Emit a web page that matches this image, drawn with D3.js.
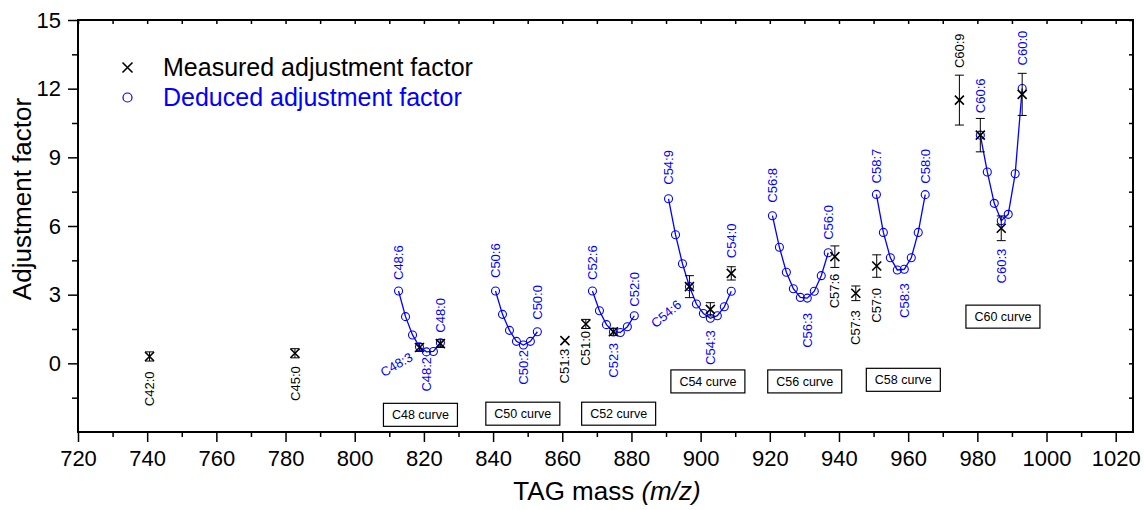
<!DOCTYPE html>
<html>
<head>
<meta charset="utf-8">
<script src="https://cdn.jsdelivr.net/npm/d3@7"></script>
<style>
  html, body { margin: 0; padding: 0; background: #fff; }
  svg { display: block; font-family: "Liberation Sans", Arial, sans-serif; }
</style>
</head>
<body>
<svg id="chart" width="1144" height="510"></svg>
<script>
// ---- Deduced adjustment factors along each carbon-number curve (m/z of [M+NH4]+) ----
const c48Species = ["C48:6", "C48:5", "C48:4", "C48:3", "C48:2", "C48:1", "C48:0"];
const c48Mass    = [812.67, 814.69, 816.71, 818.72, 820.74, 822.75, 824.77];
const c48Factor  = [3.16, 2.04, 1.24, 0.72, 0.50, 0.52, 0.90];

const c50Species = ["C50:6", "C50:5", "C50:4", "C50:3", "C50:2", "C50:1", "C50:0"];
const c50Mass    = [840.70, 842.72, 844.74, 846.75, 848.77, 850.79, 852.80];
const c50Factor  = [3.16, 2.14, 1.44, 0.96, 0.80, 0.96, 1.38];

const c52Species = ["C52:6", "C52:5", "C52:4", "C52:3", "C52:2", "C52:1", "C52:0"];
const c52Mass    = [868.73, 870.75, 872.77, 874.78, 876.80, 878.82, 880.83];
const c52Factor  = [3.16, 2.30, 1.69, 1.37, 1.35, 1.60, 2.08];

const c54Species = ["C54:9", "C54:8", "C54:7", "C54:6", "C54:5", "C54:4", "C54:3", "C54:2", "C54:1", "C54:0"];
const c54Mass    = [890.72, 892.74, 894.75, 896.77, 898.78, 900.80, 902.81, 904.83, 906.85, 908.86];
const c54Factor  = [7.19, 5.62, 4.35, 3.35, 2.59, 2.18, 1.97, 2.08, 2.47, 3.15];

const c56Species = ["C56:8", "C56:7", "C56:6", "C56:5", "C56:4", "C56:3", "C56:2", "C56:1", "C56:0"];
const c56Mass    = [920.76, 922.78, 924.79, 926.81, 928.83, 930.84, 932.86, 934.88, 936.89];
const c56Factor  = [6.45, 5.07, 3.98, 3.26, 2.88, 2.85, 3.15, 3.83, 4.83];

const c58Species = ["C58:7", "C58:6", "C58:5", "C58:4", "C58:3", "C58:2", "C58:1", "C58:0"];
const c58Mass    = [950.82, 952.83, 954.85, 956.86, 958.88, 960.90, 962.91, 964.93];
const c58Factor  = [7.38, 5.72, 4.61, 4.08, 4.11, 4.61, 5.72, 7.37];

const c60Species = ["C60:6", "C60:5", "C60:4", "C60:3", "C60:2", "C60:1", "C60:0"];
const c60Mass    = [980.86, 982.88, 984.89, 986.91, 988.93, 990.94, 992.96];
const c60Factor  = [9.97, 8.36, 6.99, 6.23, 6.51, 8.28, 12.01];

// ---- Measured adjustment factors with standard deviations ----
const measuredSpecies = ["C42:0", "C45:0", "C48:3", "C48:0", "C51:3", "C51:0", "C52:3",
                         "C54:6", "C54:3", "C54:0", "C57:6", "C57:3", "C57:0",
                         "C60:9", "C60:6", "C60:3", "C60:0"];
const measuredMass    = [740.68, 782.72, 818.72, 824.77, 860.77, 866.82, 874.78,
                         896.77, 902.81, 908.86, 938.81, 944.86, 950.91,
                         974.81, 980.86, 986.91, 992.96];
const measuredFactor  = [0.30, 0.44, 0.69, 0.86, 0.99, 1.72, 1.38,
                         3.35, 2.36, 3.93, 4.66, 3.06, 4.25,
                         11.50, 9.97, 5.90, 11.75];
const measuredError   = [0.20, 0.20, 0.17, 0.17, 0.00, 0.20, 0.15,
                         0.48, 0.29, 0.29, 0.47, 0.32, 0.49,
                         1.09, 0.73, 0.54, 0.92];

// ---- Curve captions and where they sit (data coordinates) ----
const curveCaptions     = ["C48 curve", "C50 curve", "C52 curve", "C54 curve", "C56 curve", "C58 curve", "C60 curve"];
const curveCaptionMass  = [819.0, 848.6, 876.3, 902.1, 930.1, 958.6, 987.4];
const curveCaptionValue = [-2.25, -2.2, -2.2, -0.79, -0.79, -0.72, 2.04];

// ---- Axis ticks ----
const xMajorTicks = [720, 740, 760, 780, 800, 820, 840, 860, 880, 900, 920, 940, 960, 980, 1000, 1020];
const xMinorTicks = [730, 750, 770, 790, 810, 830, 850, 870, 890, 910, 930, 950, 970, 990, 1010];
const yMajorTicks = [0, 3, 6, 9, 12, 15];
const yMinorTicks = [-1.5, 1.5, 4.5, 7.5, 10.5, 13.5];

// Point-label placement: side of the point, distance from it (px), optional slant
const labelLayout = {
  "C48:6": { side: "above", gap: 11 }, "C48:3": { side: "slant", dx: -8, dy: 9, angle: -30 },
  "C48:2": { side: "below", gap: 5 },  "C48:0": { side: "above", gap: 10 },
  "C50:6": { side: "above", gap: 13 }, "C50:2": { side: "below", gap: 5 },
  "C50:0": { side: "above", gap: 12 },
  "C52:6": { side: "above", gap: 11 }, "C52:3": { side: "below", gap: 11 },
  "C52:0": { side: "above", gap: 9 },
  "C54:9": { side: "above", gap: 14 }, "C54:6": { side: "slant", dx: -10, dy: 16, angle: -40 },
  "C54:3": { side: "below", gap: 12 }, "C54:0": { side: "above", gap: 33 },
  "C56:8": { side: "above", gap: 13 }, "C56:3": { side: "below", gap: 15 },
  "C56:0": { side: "above", gap: 13 },
  "C58:7": { side: "above", gap: 11 }, "C58:3": { side: "below", gap: 14 },
  "C58:0": { side: "above", gap: 11 },
  "C60:6": { side: "above", gap: 22 }, "C60:3": { side: "below", gap: 28 },
  "C60:0": { side: "above", gap: 23 }
};
const measuredLabelLayout = {
  "C42:0": { side: "below", gap: 15 }, "C45:0": { side: "below", gap: 13 },
  "C51:3": { side: "below", gap: 8 },  "C51:0": { side: "below", gap: 7 },
  "C57:6": { side: "below", gap: 17 }, "C57:3": { side: "below", gap: 17 },
  "C57:0": { side: "below", gap: 22 }, "C60:9": { side: "above", gap: 32 }
};

// ---- Layout ----
const svg = d3.select("#chart");
const plot = { left: 78, right: 1133, top: 20, bottom: 432 };
const BLUE = "#0000ff";

const x = d3.scaleLinear().domain([720, 1025]).range([plot.left, plot.right]);
const y = d3.scaleLinear().domain([-3, 15]).range([plot.bottom, plot.top]);

// Axes: outward ticks bottom/left with labels, inward mirrored ticks top/right
function styleAxis(g) {
  g.select(".domain").remove();
  g.selectAll(".tick line").attr("stroke", "#000").attr("stroke-width", 1.5);
  g.selectAll(".tick text").attr("font-size", 22).attr("fill", "#000")
    .attr("font-family", "'Liberation Sans', Arial, sans-serif");
}

svg.append("g").attr("transform", `translate(0,${plot.bottom})`)
  .call(d3.axisBottom(x).tickValues(xMajorTicks).tickSize(10).tickPadding(8).tickFormat(d3.format("d")))
  .call(styleAxis);
svg.append("g").attr("transform", `translate(0,${plot.bottom})`)
  .call(d3.axisBottom(x).tickValues(xMinorTicks).tickSize(5).tickFormat(""))
  .call(styleAxis);
svg.append("g").attr("transform", `translate(${plot.left},0)`)
  .call(d3.axisLeft(y).tickValues(yMajorTicks).tickSize(10).tickPadding(7).tickFormat(d3.format("d")))
  .call(styleAxis);
svg.append("g").attr("transform", `translate(${plot.left},0)`)
  .call(d3.axisLeft(y).tickValues(yMinorTicks).tickSize(6).tickFormat(""))
  .call(styleAxis);
svg.append("g").attr("transform", `translate(0,${plot.top})`)
  .call(d3.axisTop(x).tickValues(xMajorTicks.concat(xMinorTicks)).tickSize(-4).tickFormat(""))
  .call(styleAxis);
svg.append("g").attr("transform", `translate(${plot.right},0)`)
  .call(d3.axisRight(y).tickValues(yMajorTicks.concat(yMinorTicks)).tickSize(-4).tickFormat(""))
  .call(styleAxis);

// Frame
svg.append("rect")
  .attr("x", plot.left).attr("y", plot.top)
  .attr("width", plot.right - plot.left).attr("height", plot.bottom - plot.top)
  .attr("fill", "none").attr("stroke", "#000").attr("stroke-width", 2);

// Axis titles
svg.append("text")
  .attr("transform", `translate(31,199) rotate(-90)`)
  .attr("text-anchor", "middle").attr("font-size", 26).attr("fill", "#000")
  .text("Adjustment factor");

const xTitle = svg.append("text")
  .attr("x", 607).attr("y", 500)
  .attr("text-anchor", "middle").attr("font-size", 26).attr("fill", "#000");
xTitle.append("tspan").text("TAG mass ");
xTitle.append("tspan").attr("font-style", "italic").text("(m/z)");

// ---- Deduced curves ----
const curves = [
  { species: c48Species, mass: c48Mass, factor: c48Factor },
  { species: c50Species, mass: c50Mass, factor: c50Factor },
  { species: c52Species, mass: c52Mass, factor: c52Factor },
  { species: c54Species, mass: c54Mass, factor: c54Factor },
  { species: c56Species, mass: c56Mass, factor: c56Factor },
  { species: c58Species, mass: c58Mass, factor: c58Factor },
  { species: c60Species, mass: c60Mass, factor: c60Factor }
];

const line = d3.line().x(d => x(d.m)).y(d => y(d.v));
const deducedPoints = [];
curves.forEach(c => {
  const pts = c.species.map((s, i) => ({ s, m: c.mass[i], v: c.factor[i] }));
  deducedPoints.push(...pts);
  svg.append("path").datum(pts)
    .attr("d", line).attr("fill", "none").attr("stroke", BLUE).attr("stroke-width", 1.3);
});

svg.append("g").selectAll("circle").data(deducedPoints).join("circle")
  .attr("cx", d => x(d.m)).attr("cy", d => y(d.v)).attr("r", 4)
  .attr("fill", "none").attr("stroke", BLUE).attr("stroke-width", 1.1);

// ---- Measured points with error bars ----
const measured = measuredSpecies.map((s, i) => ({
  s, m: measuredMass[i], v: measuredFactor[i], e: measuredError[i]
}));
const mg = svg.append("g").attr("stroke", "#000");
measured.forEach(d => {
  const cx = x(d.m);
  if (d.e > 0) {
    const y0 = y(d.v - d.e), y1 = y(d.v + d.e);
    mg.append("line").attr("x1", cx).attr("x2", cx).attr("y1", y0).attr("y2", y1).attr("stroke-width", 1);
    [y0, y1].forEach(yy => mg.append("line")
      .attr("x1", cx - 4.5).attr("x2", cx + 4.5).attr("y1", yy).attr("y2", yy).attr("stroke-width", 1));
  }
  const cy = y(d.v), h = 4.5;
  mg.append("path")
    .attr("d", `M${cx - h},${cy - h}L${cx + h},${cy + h}M${cx - h},${cy + h}L${cx + h},${cy - h}`)
    .attr("stroke-width", 1.6).attr("fill", "none");
});

// ---- Species labels (rotated) ----
function placeLabel(g, d, spec, color) {
  const px = x(d.m), py = y(d.v);
  const t = g.append("text").attr("font-size", 13).attr("fill", color).attr("dy", "0.35em").text(d.s);
  if (spec.side === "above") {
    t.attr("text-anchor", "start").attr("transform", `translate(${px},${py - spec.gap}) rotate(-90)`);
  } else if (spec.side === "below") {
    t.attr("text-anchor", "end").attr("transform", `translate(${px},${py + spec.gap}) rotate(-90)`);
  } else {
    t.attr("text-anchor", "end").attr("transform", `translate(${px + spec.dx},${py + spec.dy}) rotate(${spec.angle})`);
  }
}
const lg = svg.append("g");
deducedPoints.filter(d => labelLayout[d.s]).forEach(d => placeLabel(lg, d, labelLayout[d.s], BLUE));
measured.filter(d => measuredLabelLayout[d.s]).forEach(d => placeLabel(lg, d, measuredLabelLayout[d.s], "#000"));

// ---- Curve captions in boxes ----
const boxW = 74, boxH = 23;
curveCaptions.forEach((c, i) => {
  const cx = x(curveCaptionMass[i]), cy = y(curveCaptionValue[i]);
  svg.append("rect").attr("x", cx - boxW / 2).attr("y", cy - boxH / 2)
    .attr("width", boxW).attr("height", boxH)
    .attr("fill", "#fff").attr("stroke", "#000").attr("stroke-width", 1.2);
  svg.append("text").attr("x", cx).attr("y", cy).attr("dy", "0.36em")
    .attr("text-anchor", "middle").attr("font-size", 12.5).attr("fill", "#000").text(c);
});

// ---- Legend ----
const legend = svg.append("g");
const lx = 127.5;
legend.append("path")
  .attr("d", `M${lx - 5},${67.5 - 5}L${lx + 5},${67.5 + 5}M${lx - 5},${67.5 + 5}L${lx + 5},${67.5 - 5}`)
  .attr("stroke", "#000").attr("stroke-width", 1.6).attr("fill", "none");
legend.append("circle").attr("cx", lx).attr("cy", 97.5).attr("r", 4.5)
  .attr("fill", "none").attr("stroke", BLUE).attr("stroke-width", 1.2);
legend.append("text").attr("x", 163).attr("y", 76).attr("font-size", 25).attr("fill", "#000")
  .text("Measured adjustment factor");
legend.append("text").attr("x", 163).attr("y", 106).attr("font-size", 25).attr("fill", BLUE)
  .text("Deduced adjustment factor");
</script>
</body>
</html>
